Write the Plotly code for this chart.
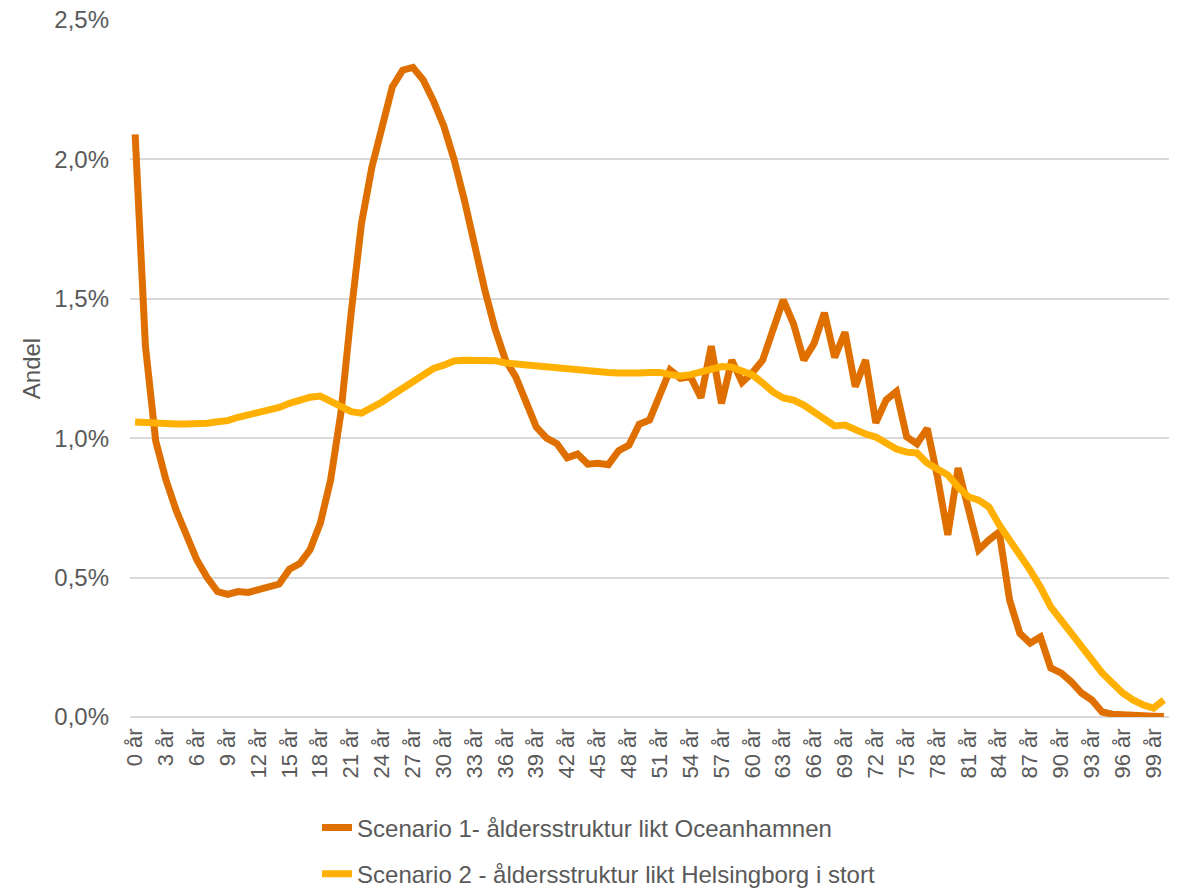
import plotly.graph_objects as go

# Age categories 0-100 years
ages = [f"{a} år" for a in range(101)]
tick_labels = ages[::3]

# Share of population per one-year age group (percent)
scenario1 = [
    2.09, 1.33, 0.99, 0.85, 0.74, 0.645, 0.563, 0.50, 0.45, 0.44,
    0.45, 0.447, 0.455, 0.466, 0.477, 0.53, 0.55, 0.60, 0.695, 0.85,
    1.09, 1.45, 1.77, 1.97, 2.12, 2.26, 2.32, 2.33, 2.285, 2.21,
    2.12, 2.00, 1.855, 1.69, 1.53, 1.39, 1.28, 1.22, 1.125, 1.04,
    1.00, 0.98, 0.93, 0.943, 0.907, 0.91, 0.905, 0.955, 0.975, 1.05,
    1.065, 1.155, 1.245, 1.215, 1.22, 1.145, 1.33, 1.125, 1.28, 1.20,
    1.235, 1.28, 1.39, 1.496, 1.41, 1.28, 1.34, 1.45, 1.29, 1.38,
    1.185, 1.28, 1.055, 1.137, 1.167, 1.005, 0.98, 1.035, 0.86, 0.653,
    0.893, 0.753, 0.60, 0.635, 0.664, 0.42, 0.30, 0.265, 0.287, 0.176,
    0.158, 0.126, 0.086, 0.061, 0.018, 0.01, 0.007, 0.01, 0.005, 0.003,
    0.002,
]

scenario2 = [
    1.058, 1.055, 1.052, 1.051, 1.051, 1.051, 1.051, 1.054, 1.059, 1.063,
    1.075, 1.083, 1.091, 1.10, 1.11, 1.125, 1.137, 1.147, 1.151, 1.13,
    1.11, 1.095, 1.09, 1.107, 1.13, 1.155, 1.18, 1.205, 1.23, 1.25,
    1.262, 1.277, 1.28, 1.28, 1.28, 1.278, 1.27, 1.266, 1.263, 1.259,
    1.257, 1.25, 1.248, 1.246, 1.244, 1.238, 1.236, 1.234, 1.232, 1.234,
    1.236, 1.236, 1.228, 1.223, 1.228, 1.238, 1.25, 1.257, 1.255, 1.24,
    1.227, 1.198, 1.166, 1.144, 1.137, 1.119, 1.094, 1.072, 1.044, 1.047,
    1.03, 1.015, 1.004, 0.983, 0.961, 0.95, 0.947, 0.91, 0.886, 0.868,
    0.825, 0.79, 0.778, 0.753, 0.689, 0.635, 0.588, 0.527, 0.466, 0.395,
    0.348, 0.30, 0.247, 0.204, 0.158, 0.122, 0.086, 0.061, 0.043, 0.032,
    0.061,
]

series_names = [
    "Scenario 1- åldersstruktur likt Oceanhamnen",
    "Scenario 2 - åldersstruktur likt Helsingborg i stort",
]
series_colors = ["#DF7000", "#FFB000"]

GREY = "#595959"
FONT = "Liberation Sans, Arial, sans-serif"

fig = go.Figure()
for name, vals, col, grp in zip(series_names, [scenario1, scenario2], series_colors, ["g1", "g2"]):
    fig.add_trace(go.Scatter(
        x=ages, y=vals, mode="lines", name=name, legendgroup=grp,
        line=dict(color=col, width=7),
    ))

fig.update_layout(
    width=1186, height=889,
    margin=dict(l=130, r=17, t=20, b=172, autoexpand=False),
    paper_bgcolor="white", plot_bgcolor="white",
    font=dict(family=FONT, size=24, color=GREY),
    separators=", ",
    showlegend=True,
    legend=dict(
        orientation="v", x=0.18, xanchor="left", y=-0.127, yanchor="top",
        traceorder="grouped", tracegroupgap=12,
        font=dict(family=FONT, size=24, color=GREY),
        bgcolor="rgba(0,0,0,0)",
    ),
)

fig.update_xaxes(
    type="category", categoryorder="array", categoryarray=ages,
    range=[-0.5, 100.5],
    tickmode="array", tickvals=tick_labels, ticktext=tick_labels,
    tickangle=-90, tickfont=dict(family=FONT, size=22, color=GREY),
    ticks="", ticklabelstandoff=6,
    showgrid=False, showline=False, zeroline=False,
)

fig.update_yaxes(
    range=[0, 2.5], dtick=0.5, tickformat=".1f", ticksuffix="%",
    tickfont=dict(family=FONT, size=24, color=GREY),
    ticks="", ticklabelstandoff=20,
    showgrid=True, gridcolor="#D9D9D9", gridwidth=2,
    zeroline=True, zerolinecolor="#D9D9D9", zerolinewidth=2,
    showline=False,
    title=dict(text="Andel", standoff=6, font=dict(family=FONT, size=24, color=GREY)),
)

fig.write_html("out.html")
